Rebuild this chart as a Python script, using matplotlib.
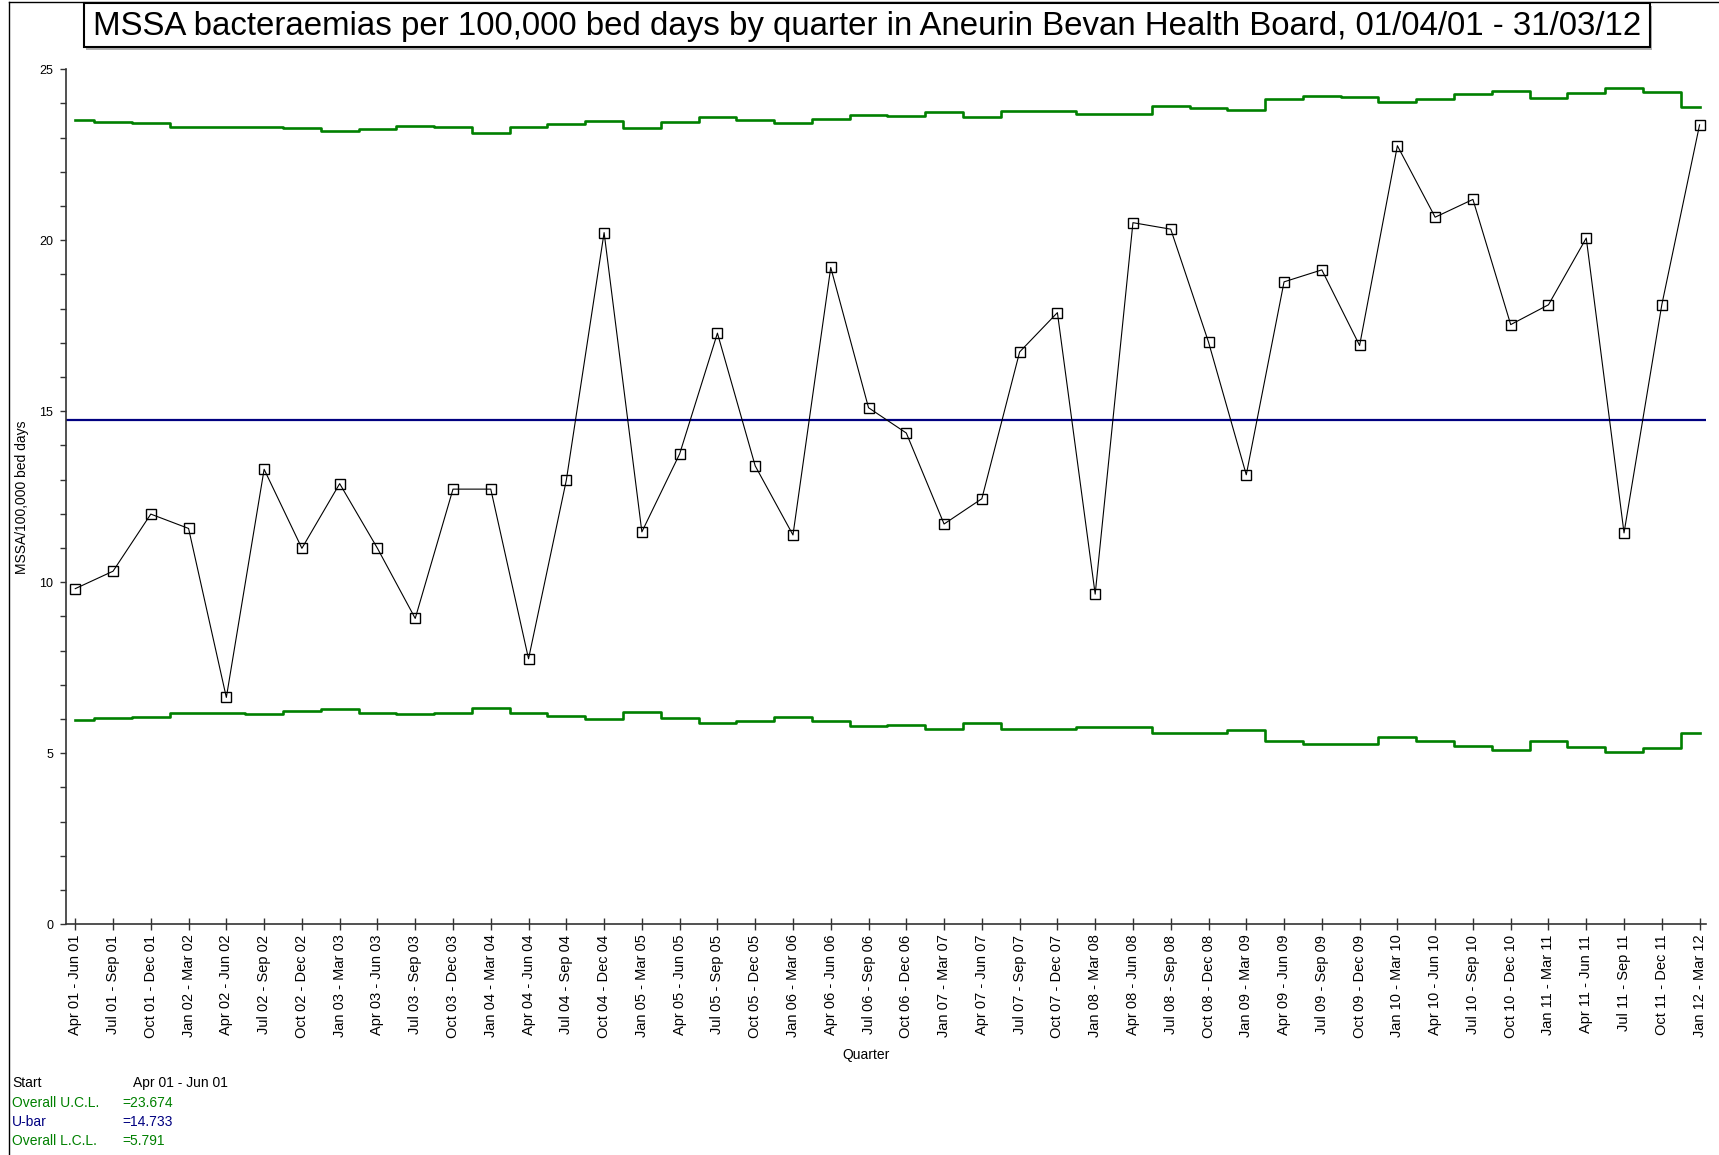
import matplotlib
matplotlib.use("Agg")
import matplotlib.pyplot as plt
from matplotlib.lines import Line2D
from matplotlib.patches import Rectangle
from matplotlib.ticker import MultipleLocator

plt.rcParams["font.family"] = ["Liberation Sans", "DejaVu Sans"]

QUARTERS = [
    "Apr 01 - Jun 01", "Jul 01 - Sep 01", "Oct 01 - Dec 01", "Jan 02 - Mar 02",
    "Apr 02 - Jun 02", "Jul 02 - Sep 02", "Oct 02 - Dec 02", "Jan 03 - Mar 03",
    "Apr 03 - Jun 03", "Jul 03 - Sep 03", "Oct 03 - Dec 03", "Jan 04 - Mar 04",
    "Apr 04 - Jun 04", "Jul 04 - Sep 04", "Oct 04 - Dec 04", "Jan 05 - Mar 05",
    "Apr 05 - Jun 05", "Jul 05 - Sep 05", "Oct 05 - Dec 05", "Jan 06 - Mar 06",
    "Apr 06 - Jun 06", "Jul 06 - Sep 06", "Oct 06 - Dec 06", "Jan 07 - Mar 07",
    "Apr 07 - Jun 07", "Jul 07 - Sep 07", "Oct 07 - Dec 07", "Jan 08 - Mar 08",
    "Apr 08 - Jun 08", "Jul 08 - Sep 08", "Oct 08 - Dec 08", "Jan 09 - Mar 09",
    "Apr 09 - Jun 09", "Jul 09 - Sep 09", "Oct 09 - Dec 09", "Jan 10 - Mar 10",
    "Apr 10 - Jun 10", "Jul 10 - Sep 10", "Oct 10 - Dec 10", "Jan 11 - Mar 11",
    "Apr 11 - Jun 11", "Jul 11 - Sep 11", "Oct 11 - Dec 11", "Jan 12 - Mar 12",
]

# MSSA bacteraemias per 100,000 bed days
RATE = [
    9.81, 10.32, 11.99, 11.57, 6.63, 13.30, 10.99, 12.88, 10.99, 8.94, 12.72,
    12.72, 7.76, 12.98, 20.22, 11.47, 13.75, 17.28, 13.40, 11.38, 19.20, 15.10,
    14.36, 11.70, 12.44, 16.73, 17.88, 9.65, 20.51, 20.32, 17.02, 13.14, 18.78,
    19.13, 16.92, 22.76, 20.67, 21.19, 17.53, 18.11, 20.06, 11.44, 18.11, 23.37,
]

UCL = [
    23.50, 23.46, 23.42, 23.30, 23.30, 23.30, 23.27, 23.18, 23.24, 23.33, 23.30,
    23.14, 23.30, 23.40, 23.49, 23.27, 23.46, 23.61, 23.50, 23.43, 23.53, 23.66,
    23.62, 23.75, 23.59, 23.78, 23.78, 23.69, 23.69, 23.91, 23.86, 23.80, 24.13,
    24.21, 24.18, 24.03, 24.14, 24.26, 24.35, 24.15, 24.30, 24.46, 24.33, 23.88,
]

LCL = [
    5.98, 6.02, 6.06, 6.17, 6.17, 6.14, 6.22, 6.29, 6.18, 6.14, 6.18,
    6.33, 6.18, 6.09, 5.99, 6.21, 6.03, 5.87, 5.95, 6.05, 5.95, 5.79,
    5.83, 5.72, 5.87, 5.72, 5.72, 5.78, 5.78, 5.58, 5.59, 5.68, 5.35,
    5.27, 5.27, 5.46, 5.35, 5.22, 5.10, 5.35, 5.19, 5.03, 5.16, 5.58,
]

U_BAR = 14.733
OVERALL_UCL = 23.674
OVERALL_LCL = 5.791

GREEN = "#008000"
NAVY = "#000080"
AXIS = "#333333"

W, H = 1719, 1155
fig = plt.figure(figsize=(W / 100, H / 100), dpi=100)

# outer frame (left and top edges only are visible)
fig.add_artist(Line2D([9 / W, 9 / W], [0, 1 - 2 / H], color="black", lw=1.0))
fig.add_artist(Line2D([9 / W, 1], [1 - 2 / H, 1 - 2 / H], color="black", lw=1.0))

# title box with a small shadow
bx0, bx1 = 84 / W, 1650 / W
by0, by1 = 1 - 47 / H, 1 - 3 / H
fig.add_artist(Rectangle((bx0 + 2 / W, by0 - 3 / H), bx1 - bx0, by1 - by0,
                         transform=fig.transFigure, facecolor="#b0b0b0", edgecolor="none"))
fig.add_artist(Rectangle((bx0, by0), bx1 - bx0, by1 - by0, transform=fig.transFigure,
                         facecolor="white", edgecolor="black", lw=1.5))
fig.text((bx0 + bx1) / 2, (by0 + by1) / 2 - 1 / H,
         "MSSA bacteraemias per 100,000 bed days by quarter in Aneurin Bevan Health Board, "
         "01/04/01 - 31/03/12",
         fontsize=23.8, ha="center", va="center")

left, right = 65.8 / W, 1706 / W
bottom, top = 1 - 924.2 / H, 1 - 69.1 / H
ax = fig.add_axes([left, bottom, right - left, top - bottom])

x = list(range(1, len(QUARTERS) + 1))
ax.plot(x, UCL, drawstyle="steps-mid", color=GREEN, lw=1.9)
ax.plot(x, LCL, drawstyle="steps-mid", color=GREEN, lw=1.9)
ax.axhline(U_BAR, color=NAVY, lw=1.6)
ax.plot(x, RATE, color="black", lw=0.8, marker="s", ms=7,
        mfc="none", mec="black", mew=1.0)

ax.set_xlim(0.75, 44.17)
ax.set_ylim(0, 25)

for side in ("top", "right"):
    ax.spines[side].set_visible(False)
for side in ("left", "bottom"):
    ax.spines[side].set_color(AXIS)
    ax.spines[side].set_linewidth(1.2)

ax.set_xticks(x)
ax.set_xticklabels(QUARTERS, rotation=90, fontsize=10.5)
ax.tick_params(axis="x", direction="inout", length=9, width=1, color=AXIS, pad=3)

ax.yaxis.set_major_locator(MultipleLocator(5))
ax.yaxis.set_minor_locator(MultipleLocator(1))
ax.tick_params(axis="y", which="both", direction="out", length=4, width=1,
               color=AXIS, labelsize=9, pad=5)

fig.text(22 / W, 1 - 497 / H, "MSSA/100,000 bed days", rotation=90,
         ha="center", va="center", fontsize=10)
fig.text(866 / W, 1 - 1055 / H, "Quarter", ha="center", va="center", fontsize=10)

# summary block under the chart
rows = [
    ("Start", "Apr 01 - Jun 01", "black", 1083, 133),
    ("Overall U.C.L.", f"={OVERALL_UCL}", GREEN, 1103, 122),
    ("U-bar", f"={U_BAR}", NAVY, 1121.5, 122),
    ("Overall L.C.L.", f"={OVERALL_LCL}", GREEN, 1141, 122),
]
for name, value, color, ypix, xval in rows:
    fig.text(12 / W, 1 - ypix / H, name, color=color, fontsize=10, va="center")
    fig.text(xval / W, 1 - ypix / H, value, color=color, fontsize=10, va="center")

fig.savefig("out.png", dpi=100)
